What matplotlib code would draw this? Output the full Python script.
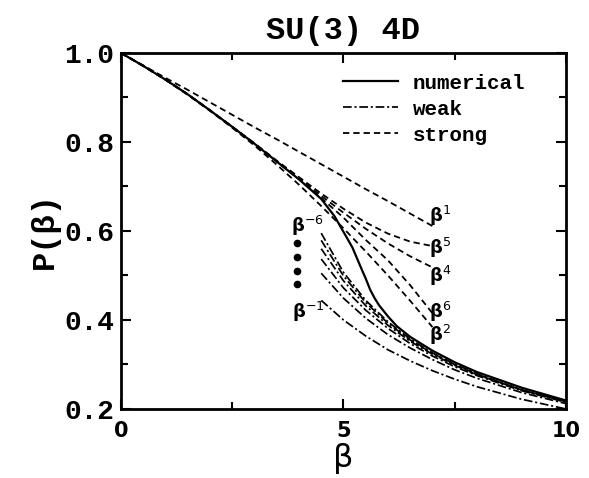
import matplotlib
matplotlib.use("Agg")
import matplotlib.pyplot as plt
from matplotlib.ticker import MultipleLocator

# numerical plaquette
beta_num = [0, 0.5, 1, 1.5, 2, 2.5, 3, 3.5, 4, 4.5, 4.8, 5.0, 5.2, 5.4, 5.5,
            5.6, 5.7, 5.8, 6.0, 6.2, 6.5, 7.0, 7.5, 8, 9, 10]
p_num = [1.0, 0.971, 0.940, 0.907, 0.871, 0.834, 0.796, 0.756, 0.716, 0.672,
         0.633, 0.598, 0.563, 0.516, 0.493, 0.468, 0.449, 0.433, 0.408, 0.386,
         0.362, 0.331, 0.305, 0.283, 0.248, 0.219]

# strong coupling expansions (orders 1, 2, 4, 5, 6)
beta_strong = [0, 0.5, 1, 1.5, 2, 2.5, 3, 3.5, 4, 4.5, 5, 5.5, 6, 6.5, 7]
strong = {
    '1': [1.0, 0.972, 0.944, 0.917, 0.889, 0.861, 0.833, 0.806, 0.778, 0.750,
          0.722, 0.694, 0.667, 0.639, 0.611],
    '2': [1.0, 0.971, 0.940, 0.906, 0.870, 0.832, 0.792, 0.749, 0.704, 0.656,
          0.606, 0.554, 0.500, 0.443, 0.384],
    '4': [1.0, 0.971, 0.940, 0.907, 0.871, 0.834, 0.796, 0.757, 0.718, 0.679,
          0.641, 0.605, 0.572, 0.543, 0.518],
    '5': [1.0, 0.971, 0.940, 0.907, 0.871, 0.834, 0.797, 0.758, 0.721, 0.684,
          0.650, 0.619, 0.594, 0.576, 0.566],
    '6': [1.0, 0.971, 0.940, 0.907, 0.871, 0.834, 0.796, 0.756, 0.716, 0.674,
          0.630, 0.580, 0.534, 0.478, 0.415],
}
strong_lbl_p = {'1': 0.633, '5': 0.561, '4': 0.500, '6': 0.418, '2': 0.366}

# weak coupling expansions (orders -1 .. -6)
beta_weak = [4.5, 5, 5.5, 6, 6.5, 7, 7.5, 8, 9, 10]
weak = [
    [0.444, 0.400, 0.364, 0.333, 0.308, 0.286, 0.267, 0.250, 0.222, 0.200],
    [0.505, 0.449, 0.404, 0.367, 0.337, 0.311, 0.288, 0.269, 0.237, 0.212],
    [0.537, 0.472, 0.422, 0.381, 0.347, 0.319, 0.295, 0.275, 0.241, 0.215],
    [0.560, 0.488, 0.432, 0.388, 0.352, 0.323, 0.298, 0.277, 0.243, 0.216],
    [0.579, 0.499, 0.439, 0.393, 0.355, 0.325, 0.300, 0.278, 0.243, 0.217],
    [0.595, 0.507, 0.444, 0.396, 0.357, 0.326, 0.301, 0.279, 0.243, 0.217],
]
dots_beta = [3.96, 3.96, 3.96, 3.96]
dots_p = [0.572, 0.541, 0.509, 0.480]

mono = 'Liberation Mono'
weak_ls = (0, (5, 1.6, 1.2, 1.6))
strong_ls = (0, (3.5, 2.2))

fig = plt.figure(figsize=(5.89, 4.78), dpi=100)
ax = fig.add_axes([0.2054, 0.1444, 0.7555, 0.7448])

for k, vals in strong.items():
    ax.plot(beta_strong, vals, color='black', lw=1.3, ls=strong_ls)
    ax.text(6.93, strong_lbl_p[k], 'β$^{' + k + '}$', fontsize=13,
            fontweight='bold', ha='left', va='center')

for vals in weak:
    ax.plot(beta_weak, vals, color='black', lw=1.25, ls=weak_ls)

ax.plot(beta_num, p_num, color='black', lw=1.6)
ax.plot(dots_beta, dots_p, 'o', color='black', ms=4.5)
ax.text(3.82, 0.612, 'β$^{-6}$', fontsize=13, fontweight='bold', ha='left', va='center')
ax.text(3.84, 0.418, 'β$^{-1}$', fontsize=13, fontweight='bold', ha='left', va='center')

# legend
h1, = ax.plot([], [], color='black', lw=1.6, label='numerical')
h2, = ax.plot([], [], color='black', lw=1.25, ls=weak_ls, label='weak')
h3, = ax.plot([], [], color='black', lw=1.3, ls=strong_ls, label='strong')
ax.legend(handles=[h1, h2, h3], loc='upper left', bbox_to_anchor=(0.48, 0.965),
          frameon=False, handlelength=2.65, handletextpad=0.72, labelspacing=0.33,
          borderaxespad=0, prop={'family': mono, 'weight': 'bold', 'size': 15})

ax.set_xlim(0, 10)
ax.set_ylim(0.2, 1.0)
ax.xaxis.set_major_locator(MultipleLocator(5))
ax.xaxis.set_minor_locator(MultipleLocator(2.5))
ax.yaxis.set_major_locator(MultipleLocator(0.2))
ax.yaxis.set_minor_locator(MultipleLocator(0.1))
ax.tick_params(which='both', direction='in', top=True, right=True, width=1.5)
ax.tick_params(which='major', length=7)
ax.tick_params(which='minor', length=5)
ax.tick_params(axis='y', pad=5)
ax.tick_params(axis='x', pad=9)
for s in ax.spines.values():
    s.set_linewidth(2)

ax.set_yticks([0.2, 0.4, 0.6, 0.8, 1.0])
ax.set_yticklabels(['0.2', '0.4', '0.6', '0.8', '1.0'], family=mono,
                   fontweight='bold', fontsize=20)
ax.set_xticks([0, 5, 10])
ax.set_xticklabels(['0', '5', '10'], fontweight='bold', fontsize=15)

ax.set_xlabel('β', fontsize=23, labelpad=1)
ax.set_ylabel('P(β)', family=mono, fontweight='bold', fontsize=23, labelpad=3)
ax.set_title('SU(3) 4D', family=mono, fontweight='bold', fontsize=23, pad=10)

fig.savefig('out.png', dpi=100)
